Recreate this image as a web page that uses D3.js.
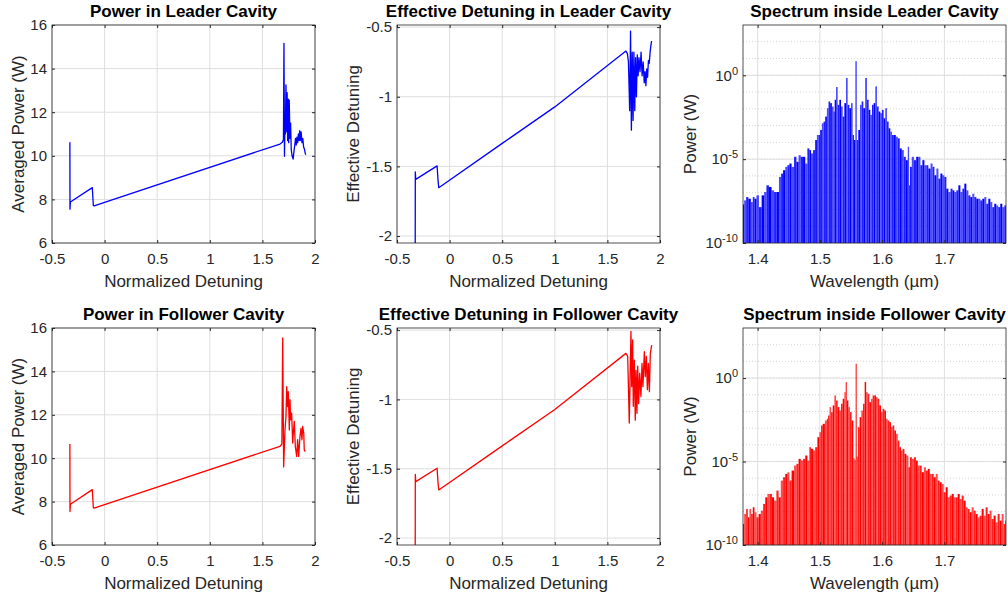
<!DOCTYPE html>
<html>
<head>
<meta charset="utf-8">
<script src="https://cdn.jsdelivr.net/npm/d3@7"></script>
<style>
  body { margin: 0; background: #fff; }
  svg text { font-family: "Liberation Sans", Arial, sans-serif; fill: #262626; }
  .tick line { stroke: #262626; }
  .domain { display: none; }
</style>
</head>
<body>
<svg id="fig" width="1008" height="594"></svg>
<script>
// ---- data ----
var detTicks = [-0.5, 0, 0.5, 1, 1.5, 2];
var powTicks = [6, 8, 10, 12, 14, 16];
var effTicks = [-2, -1.5, -1, -0.5];
var wlTicks = [1.4, 1.5, 1.6, 1.7];
var specTicks = [1e-10, 1e-5, 1];

// averaged power, leader cavity
var powLeaderX = [-0.330,-0.329,-0.325,-0.117,-0.107,-0.100,1.667,1.690,1.700,1.705,1.710,1.714,1.718,1.724,1.731,1.735,1.740,1.746,1.750,1.755,1.762,1.768,1.774,1.782,1.792,1.800,1.808,1.815,1.822,1.828,1.835,1.842,1.848,1.855,1.860,1.868,1.876,1.884,1.892,1.900,1.908,1.912];
var powLeaderY = [10.62,7.55,7.88,8.54,7.72,7.70,10.54,10.62,10.75,15.16,9.98,11.5,11.0,13.25,11.1,12.9,10.7,12.6,10.6,12.55,10.8,11.5,10.3,10.0,9.85,10.2,10.5,10.8,10.5,10.85,10.6,11.0,10.7,11.15,10.7,11.1,10.6,10.8,10.4,10.3,10.1,10.05];

// averaged power, follower cavity
var powFollowerX = [-0.330,-0.329,-0.325,-0.117,-0.107,-0.100,1.667,1.685,1.693,1.702,1.715,1.724,1.731,1.740,1.746,1.756,1.762,1.769,1.778,1.788,1.794,1.803,1.813,1.826,1.835,1.845,1.857,1.867,1.876,1.883,1.893,1.898,1.908];
var powFollowerY = [10.65,7.54,7.88,8.55,7.72,7.70,10.55,10.65,15.54,9.6,11.3,11.92,13.3,12.38,13.07,11.3,12.7,11.77,12.08,10.7,11.15,11.7,10.54,10.08,10.85,10.08,11.0,11.38,10.85,11.46,11.15,10.38,10.3];

// effective detuning, leader cavity
var detLeaderX = [-0.327,-0.326,-0.322,-0.119,-0.110,-0.103,0.5,1.0,1.676,1.690,1.700,1.712,1.720,1.728,1.736,1.744,1.752,1.760,1.768,1.776,1.784,1.792,1.800,1.810,1.820,1.830,1.840,1.850,1.858,1.866,1.874,1.882,1.890,1.898,1.906,1.914,1.920];
var detLeaderY = [-2.30,-1.54,-1.593,-1.496,-1.60,-1.653,-1.335,-1.073,-0.672,-0.69,-0.75,-1.10,-0.53,-1.24,-0.68,-1.17,-0.68,-1.10,-0.72,-1.0,-0.70,-0.85,-0.72,-0.82,-0.68,-0.85,-0.75,-0.90,-0.82,-0.92,-0.80,-0.86,-0.74,-0.76,-0.68,-0.63,-0.60];

// effective detuning, follower cavity
var detFollowerX = [-0.327,-0.326,-0.322,-0.119,-0.110,-0.103,0.5,1.0,1.676,1.693,1.708,1.724,1.731,1.740,1.746,1.756,1.765,1.772,1.781,1.788,1.797,1.807,1.819,1.829,1.838,1.851,1.860,1.870,1.880,1.889,1.899,1.908,1.921];
var detFollowerY = [-2.30,-1.54,-1.593,-1.496,-1.60,-1.653,-1.335,-1.073,-0.668,-0.69,-1.17,-0.51,-0.908,-0.57,-1.05,-0.716,-1.15,-0.79,-1.10,-0.76,-1.03,-0.81,-0.98,-0.74,-0.908,-0.656,-0.836,-0.69,-0.93,-0.74,-0.944,-0.668,-0.608];

// spectrum inside leader cavity: wavelength (um), log10 power (W)
var specLeaderWl = [1.3765,1.3802,1.3829,1.3872,1.3909,1.3936,1.3963,1.4000,1.4043,1.4086,1.4123,1.4160,1.4203,1.4246,1.4283,1.4321,1.4364,1.4390,1.4428,1.4460,1.4497,1.4524,1.4567,1.4604,1.4642,1.4674,1.4711,1.4749,1.4781,1.4818,1.4845,1.4872,1.4909,1.4941,1.4963,1.4995,1.5016,1.5048,1.5070,1.5102,1.5123,1.5155,1.5176,1.5209,1.5230,1.5246,1.5273,1.5299,1.5326,1.5353,1.5380,1.5406,1.5433,1.5460,1.5487,1.5513,1.5540,1.5556,1.5583,1.5604,1.5631,1.5658,1.5684,1.5711,1.5743,1.5770,1.5797,1.5824,1.5850,1.5877,1.5904,1.5930,1.5957,1.5984,1.6011,1.6037,1.6064,1.6091,1.6118,1.6144,1.6171,1.6203,1.6235,1.6267,1.6299,1.6332,1.6364,1.6396,1.6428,1.6439,1.6460,1.6492,1.6529,1.6567,1.6599,1.6631,1.6663,1.6695,1.6727,1.6759,1.6797,1.6824,1.6856,1.6888,1.6920,1.6952,1.6984,1.7016,1.7048,1.7080,1.7118,1.7144,1.7176,1.7209,1.7241,1.7273,1.7305,1.7337,1.7369,1.7401,1.7433,1.7465,1.7497,1.7529,1.7561,1.7594,1.7626,1.7658,1.7690,1.7722,1.7754,1.7786,1.7818,1.7850,1.7882,1.7914,1.7947,1.7979];
var specLeaderLog = [-7.70,-7.46,-7.26,-7.36,-7.56,-7.26,-7.36,-7.16,-7.86,-7.16,-6.96,-6.56,-6.66,-6.86,-6.96,-6.96,-6.06,-5.86,-5.66,-5.46,-5.36,-5.26,-5.46,-4.86,-5.16,-4.76,-4.86,-4.86,-5.26,-4.36,-4.46,-4.66,-4.46,-3.86,-3.56,-3.56,-3.26,-2.86,-2.76,-2.46,-1.96,-1.56,-1.66,-1.86,-2.16,-1.46,-0.70,-1.76,-1.46,-1.86,-2.46,-1.66,-0.16,-1.76,-1.96,-1.66,-3.56,-3.86,0.84,-3.86,-3.26,-1.76,-1.56,-1.96,-0.16,-1.46,-2.06,-2.36,-1.76,-1.66,-0.66,-1.86,-2.16,-2.26,-2.06,-2.56,-1.96,-2.76,-3.16,-3.36,-3.56,-3.56,-3.66,-3.76,-4.36,-4.46,-4.86,-5.06,-4.26,-6.56,-5.46,-4.86,-5.06,-4.86,-4.86,-5.36,-5.06,-5.36,-5.36,-5.56,-5.26,-5.46,-5.96,-5.56,-6.16,-5.86,-5.96,-6.06,-6.76,-6.96,-6.76,-6.86,-6.96,-6.86,-6.56,-6.96,-6.76,-6.46,-6.86,-7.16,-7.26,-7.06,-7.26,-7.36,-7.36,-7.46,-7.36,-7.26,-7.66,-7.36,-7.56,-7.86,-7.66,-7.76,-7.86,-7.66,-7.86,-7.76];

// spectrum inside follower cavity
var specFollowerWl = [1.3765,1.3802,1.3829,1.3856,1.3882,1.3909,1.3936,1.3963,1.4000,1.4032,1.4070,1.4107,1.4139,1.4176,1.4214,1.4246,1.4283,1.4321,1.4353,1.4390,1.4428,1.4460,1.4497,1.4524,1.4567,1.4604,1.4642,1.4674,1.4711,1.4749,1.4781,1.4818,1.4845,1.4872,1.4909,1.4941,1.4979,1.5005,1.5032,1.5059,1.5102,1.5123,1.5144,1.5166,1.5193,1.5219,1.5246,1.5273,1.5299,1.5326,1.5353,1.5380,1.5406,1.5422,1.5444,1.5471,1.5497,1.5524,1.5551,1.5567,1.5583,1.5599,1.5626,1.5652,1.5679,1.5706,1.5733,1.5754,1.5781,1.5807,1.5834,1.5861,1.5888,1.5914,1.5941,1.5968,1.5995,1.6021,1.6048,1.6075,1.6102,1.6128,1.6155,1.6182,1.6209,1.6235,1.6267,1.6289,1.6316,1.6342,1.6374,1.6406,1.6439,1.6460,1.6492,1.6529,1.6556,1.6588,1.6620,1.6652,1.6690,1.6717,1.6749,1.6781,1.6813,1.6845,1.6877,1.6909,1.6941,1.6973,1.7005,1.7037,1.7070,1.7102,1.7134,1.7166,1.7198,1.7230,1.7262,1.7294,1.7326,1.7358,1.7390,1.7422,1.7455,1.7487,1.7519,1.7551,1.7583,1.7615,1.7647,1.7679,1.7711,1.7743,1.7775,1.7807,1.7840,1.7872,1.7904,1.7936,1.7968,1.7989];
var specFollowerLog = [-8.74,-8.14,-7.84,-8.34,-7.84,-8.14,-7.74,-8.04,-8.34,-8.14,-7.94,-7.54,-7.14,-6.94,-6.94,-7.14,-7.34,-6.74,-7.14,-6.14,-5.94,-5.74,-5.64,-6.14,-5.54,-5.24,-5.14,-4.84,-4.94,-4.84,-4.64,-4.94,-4.14,-4.24,-4.34,-4.14,-3.54,-3.24,-2.84,-2.74,-2.54,-2.44,-2.24,-1.74,-2.04,-1.64,-1.04,-1.34,-1.74,-1.94,-1.54,-1.24,-0.84,-0.24,-1.34,-1.74,-2.04,-2.54,-4.80,-4.90,0.86,-4.70,-2.94,-2.34,-1.94,-1.54,-0.24,-0.84,-0.94,-1.44,-1.24,-1.04,-1.04,-1.14,-1.24,-1.64,-2.04,-1.84,-1.94,-2.44,-2.54,-2.64,-2.94,-2.84,-3.14,-3.34,-3.74,-4.14,-4.34,-4.24,-4.54,-4.64,-5.34,-4.74,-4.84,-4.74,-4.94,-5.24,-5.24,-5.64,-5.34,-5.54,-5.44,-5.74,-5.74,-5.94,-5.74,-6.14,-6.24,-6.34,-6.84,-6.54,-7.14,-7.04,-6.94,-7.14,-7.14,-6.94,-7.24,-7.04,-7.34,-7.74,-7.84,-8.04,-7.74,-7.94,-8.14,-8.34,-8.24,-7.84,-8.24,-7.74,-8.14,-7.94,-8.44,-8.24,-8.64,-8.14,-8.54,-8.14,-8.74,-8.54];

// ---- drawing ----
var svg = d3.select('#fig');
var clipCount = 0;
var numFmt = function(d) { return String(d); };

function panel(x0, y0, w, h) {
  var g = svg.append('g').attr('transform', 'translate(' + x0 + ',' + y0 + ')');
  clipCount++;
  g.append('clipPath').attr('id', 'clip' + clipCount)
    .append('rect').attr('width', w).attr('height', h);
  g.clipUrl = 'url(#clip' + clipCount + ')';
  return g;
}

function grid(g, sx, sy, w, h, xt, yt, minor) {
  if (minor) {
    g.selectAll('.mgrid').data(minor).enter().append('line')
      .attr('x1', 0).attr('x2', w)
      .attr('y1', function(d) { return sy(d); })
      .attr('y2', function(d) { return sy(d); })
      .attr('stroke', '#c8c8c8').attr('stroke-width', 0.8)
      .attr('stroke-dasharray', '1,2');
  }
  g.selectAll('.vgrid').data(xt).enter().append('line')
    .attr('x1', function(d) { return sx(d); })
    .attr('x2', function(d) { return sx(d); })
    .attr('y1', 0).attr('y2', h)
    .attr('stroke', '#dedede').attr('stroke-width', 1);
  g.selectAll('.hgrid').data(yt).enter().append('line')
    .attr('x1', 0).attr('x2', w)
    .attr('y1', function(d) { return sy(d); })
    .attr('y2', function(d) { return sy(d); })
    .attr('stroke', '#dedede').attr('stroke-width', 1);
}

function frame(g, sx, sy, w, h, xt, yt, yFmt, title, xLabel, yLabel, yLabelOff) {
  g.append('g').attr('transform', 'translate(0,' + h + ')')
    .call(d3.axisBottom(sx).tickValues(xt).tickFormat(numFmt).tickSizeInner(-3).tickSizeOuter(0).tickPadding(10))
    .selectAll('text').style('font-size', '15px');
  g.append('g')
    .call(d3.axisTop(sx).tickValues(xt).tickFormat('').tickSizeInner(-3).tickSizeOuter(0));
  var ya = g.append('g')
    .call(d3.axisLeft(sy).tickValues(yt).tickFormat(yFmt ? '' : numFmt).tickSizeInner(-3).tickSizeOuter(0).tickPadding(5));
  ya.selectAll('text').style('font-size', '15px');
  if (yFmt) ya.selectAll('.tick').each(yFmt);
  g.append('g').attr('transform', 'translate(' + w + ',0)')
    .call(d3.axisRight(sy).tickValues(yt).tickFormat('').tickSizeInner(-3).tickSizeOuter(0));

  g.append('rect').attr('width', w).attr('height', h)
    .attr('fill', 'none').attr('stroke', '#262626').attr('stroke-width', 0.8);

  g.append('text').attr('x', w / 2).attr('y', -8)
    .attr('text-anchor', 'middle').style('font-size', '17px').style('font-weight', 'bold')
    .style('fill', '#000').text(title);
  g.append('text').attr('x', w / 2).attr('y', h + 44)
    .attr('text-anchor', 'middle').style('font-size', '17px').text(xLabel);
  g.append('text')
    .attr('transform', 'translate(' + (-yLabelOff) + ',' + (h / 2) + ') rotate(-90)')
    .attr('text-anchor', 'middle').style('font-size', '17px').text(yLabel);
}

function linePanel(x0, y0, w, h, xs, ys, yDomain, yt, color, title, yLabel, yLabelOff) {
  var g = panel(x0, y0, w, h);
  var sx = d3.scaleLinear().domain([-0.5, 2]).range([0, w]);
  var sy = d3.scaleLinear().domain(yDomain).range([h, 0]);
  grid(g, sx, sy, w, h, detTicks, yt);
  var line = d3.line()
    .x(function(d, i) { return sx(xs[i]); })
    .y(function(d, i) { return sy(ys[i]); });
  g.append('path').attr('d', line(xs))
    .attr('clip-path', g.clipUrl)
    .attr('fill', 'none').attr('stroke', color).attr('stroke-width', 1.3)
    .attr('stroke-linejoin', 'round');
  frame(g, sx, sy, w, h, detTicks, yt, null, title, 'Normalized Detuning', yLabel, yLabelOff);
}

function supFmt() {
  var d = d3.select(this).datum();
  var t = d3.select(this).select('text').style('font-size', '15px').text('10');
  t.append('tspan').attr('dy', '-0.55em').style('font-size', '11px')
    .text(Math.round(Math.log10(d)));
}

function specPanel(x0, y0, w, h, wl, lg, color, title) {
  var g = panel(x0, y0, w, h);
  var sx = d3.scaleLinear().domain([1.3765, 1.799]).range([0, w]);
  var sy = d3.scaleLog().domain([1e-10, 1e3]).range([h, 0]);
  var decades = [];
  for (var e = -9; e <= 2; e++) decades.push(Math.pow(10, e));
  grid(g, sx, sy, w, h, wlTicks, specTicks, decades);

  var bars = g.append('g').attr('clip-path', g.clipUrl);
  bars.selectAll('rect').data(lg).enter().append('rect')
    .attr('x', function(d, i) {
      var a = i > 0 ? sx(wl[i - 1]) : sx(wl[i]) - 2;
      return (a + sx(wl[i])) / 2;
    })
    .attr('width', function(d, i) {
      var a = i > 0 ? sx(wl[i - 1]) : sx(wl[i]) - 2;
      var b = i < wl.length - 1 ? sx(wl[i + 1]) : sx(wl[i]) + 2;
      return Math.max((b - a) / 2, 0.8);
    })
    .attr('y', function(d) { return sy(Math.pow(10, d)); })
    .attr('height', function(d) { return h - sy(Math.pow(10, d)); })
    .attr('fill', color)
    .attr('fill-opacity', function(d, i) { return i % 3 == 1 ? 0.7 : (i % 3 == 2 ? 0.88 : 1); });

  frame(g, sx, sy, w, h, wlTicks, specTicks, supFmt, title, 'Wavelength (\u00b5m)', 'Power (W)', 47);
}

var effDomain = [-2.05, -0.485];

linePanel(52, 25, 263, 218, powLeaderX, powLeaderY, [6, 16], powTicks, '#0000ff', 'Power in Leader Cavity', 'Averaged Power (W)', 28);
linePanel(397, 25, 263, 218, detLeaderX, detLeaderY, effDomain, effTicks, '#0000ff', 'Effective Detuning in Leader Cavity', 'Effective Detuning', 38);
specPanel(743, 25, 263, 218, specLeaderWl, specLeaderLog, '#0000ff', 'Spectrum inside Leader Cavity');

linePanel(52, 328, 263, 217, powFollowerX, powFollowerY, [6, 16], powTicks, '#ff0000', 'Power in Follower Cavity', 'Averaged Power (W)', 28);
linePanel(397, 328, 263, 217, detFollowerX, detFollowerY, effDomain, effTicks, '#ff0000', 'Effective Detuning in Follower Cavity', 'Effective Detuning', 38);
specPanel(743, 328, 263, 217, specFollowerWl, specFollowerLog, '#ff0000', 'Spectrum inside Follower Cavity');
</script>
</body>
</html>
